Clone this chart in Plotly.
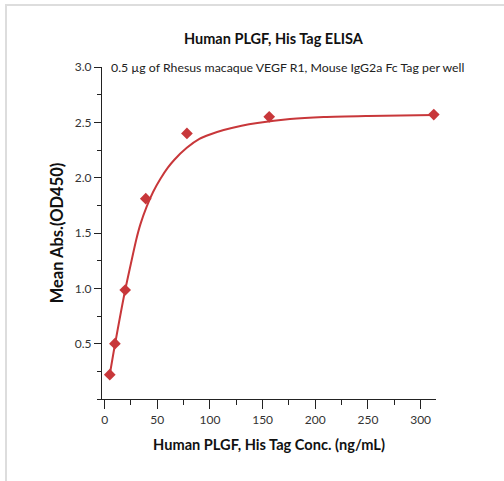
import plotly.graph_objects as go

# Measured points
conc = [4.88, 9.77, 19.53, 39.06, 78.13, 156.25, 312.5]
od450 = [0.22, 0.50, 0.985, 1.81, 2.40, 2.55, 2.57]

# Fitted curve
curve_x = [4.88, 9.77, 19.53, 26, 30, 34, 40, 46, 53, 60, 66, 78, 90, 100, 113, 130, 145, 176, 208, 250, 312.5]
curve_y = [0.22, 0.49, 0.985, 1.27, 1.44, 1.58, 1.74, 1.87, 1.99, 2.09, 2.16, 2.27, 2.35, 2.39, 2.43, 2.47, 2.495, 2.53, 2.548, 2.558, 2.567]

x_ticks = [0, 50, 100, 150, 200, 250, 300]
y_ticks = [0.5, 1.0, 1.5, 2.0, 2.5, 3.0]

title = "Human PLGF, His Tag ELISA"
subtitle = "0.5 µg of Rhesus macaque VEGF R1, Mouse IgG2a Fc Tag per well"
x_title = "Human PLGF, His Tag Conc. (ng/mL)"
y_title = "Mean Abs.(OD450)"

RED = "#C8373A"
FONT = "Lato"
W, H = 504, 481
L, R, T, B = 102, 68, 67, 82

fig = go.Figure()
fig.add_trace(go.Scatter(x=curve_x, y=curve_y, mode="lines",
                         line=dict(color=RED, width=2, shape="spline", smoothing=0.8),
                         hoverinfo="skip", showlegend=False, cliponaxis=False))
fig.add_trace(go.Scatter(x=conc, y=od450, mode="markers",
                         marker=dict(symbol="diamond", color=RED, size=9),
                         showlegend=False, cliponaxis=False))

axis_common = dict(showgrid=False, zeroline=False, showline=True, linecolor="#222",
                   linewidth=1.3, ticks="outside", tickcolor="#222", tickwidth=1.3,
                   tickfont=dict(family=FONT, size=12, color="#333"))

fig.update_xaxes(range=[-2.5, 314.6], tickvals=x_ticks, ticklen=9,
                 minor=dict(dtick=25, tick0=0, ticks="outside", ticklen=5, tickcolor="#222", tickwidth=1.3),
                 title=dict(text="<b>%s</b>" % x_title, font=dict(family=FONT, size=14.6, color="#111"), standoff=14),
                 **axis_common)
fig.update_yaxes(range=[0, 3.0], tickvals=y_ticks, tickformat=".1f", ticklen=7,
                 minor=dict(dtick=0.25, tick0=0, ticks="outside", ticklen=4, tickcolor="#222", tickwidth=1.3),
                 title=dict(text="<b>%s</b>" % y_title, font=dict(family=FONT, size=16.5, color="#111"), standoff=6),
                 **axis_common)

pw = W - L - R
ph = H - T - B
def px_x(p):
    return (p - L) / pw
def px_y(p):
    return (H - B - p) / ph

fig.add_annotation(text="<b>%s</b>" % title, x=px_x(274), y=px_y(38), xref="paper", yref="paper",
                   showarrow=False, xanchor="center", yanchor="middle",
                   font=dict(family=FONT, size=14.5, color="#111"))
fig.add_annotation(text=subtitle, x=px_x(287), y=px_y(67), xref="paper", yref="paper",
                   showarrow=False, xanchor="center", yanchor="middle",
                   font=dict(family=FONT, size=12.3, color="#222"))

# light frame lines at the top and left edge of the picture
fig.add_shape(type="line", xref="paper", yref="paper", x0=px_x(5), x1=px_x(504), y0=px_y(5), y1=px_y(5),
              line=dict(color="#DDDDDD", width=2))
fig.add_shape(type="line", xref="paper", yref="paper", x0=px_x(6), x1=px_x(6), y0=px_y(5), y1=px_y(481),
              line=dict(color="#DDDDDD", width=2))

fig.update_layout(width=W, height=H, margin=dict(l=L, r=R, t=T, b=B, autoexpand=False),
                  paper_bgcolor="white", plot_bgcolor="white",
                  font=dict(family=FONT))
fig.write_html("out.html", config={"displayModeBar": False},
               post_script="document.body.style.margin='0';")
